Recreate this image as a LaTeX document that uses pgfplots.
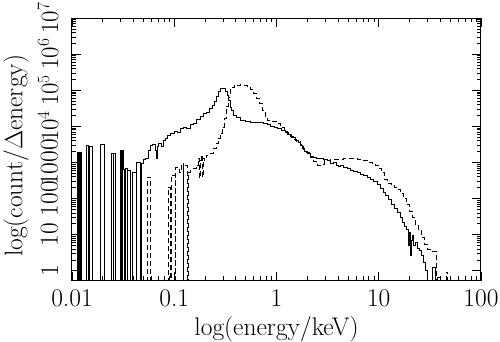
\documentclass[border=0pt]{standalone}
\usepackage{pgfplots}
\pgfplotsset{compat=1.18}
\usepackage{pgfplotstable}
\pgfplotstableread{
E N
0.01 0.01
0.01119 1880
0.01145 0.01
0.01163 1880
0.01189 0.01
0.01203 1880
0.01225 0.01
0.01370 2940
0.01457 0.01
0.01467 2756
0.01569 0.01
0.01878 3235
0.02056 0.01
0.02445 1765
0.02518 0.01
0.02546 1765
0.02633 0.01
0.02947 2206
0.03048 0.01
0.03083 2206
0.03175 656
0.03262 0.01
0.03299 700
0.03451 0.01
0.03474 616
0.03690 0.01
0.03863 542
0.04226 0.01
0.04294 981
0.04698 0.01
0.04730 944
0.04981 1242
0.05176 1324
0.05537 2206
0.05792 3034
0.06059 3235
0.06483 2206
0.06631 1324
0.06782 2845
0.06937 3447
0.07422 2845
0.07762 4176
0.08119 4744
0.08492 5741
0.09086 6520
0.09945 7408
0.1064 6950
0.1138 8975
0.1218 9565
0.1303 8975
0.1426 11580
0.1525 12340
0.1632 15930
0.1786 19290
0.1911 23360
0.2045 24890
0.2188 32130
0.2340 38900
0.2447 50230
0.2560 69090
0.2679 95020
0.2802 112900
0.3136 95020
0.3280 73640
0.3355 53530
0.3509 34250
0.3589 28300
0.3755 20560
0.4017 18100
0.4395 14950
0.4921 14030
0.5507 13150
0.6162 12800
0.6896 13150
0.7379 12340
0.8073 11580
0.8639 10190
0.9454 9565
1.0114 8975
1.1066 7900
1.2110 6950
1.2957 6120
1.3868 5054
1.5170 4176
1.6235 3673
1.6983 3034
1.7764 2506
1.8581 2069
1.9878 1821
2.1269 1504
2.2751 1412
2.4343 1324
2.6636 1324
2.8499 1242
3.1184 1165
3.3366 944
3.5697 981
3.8200 847
3.9961 795
4.1790 847
4.4718 746
4.8930 700
5.2350 616
5.6013 578
6.1302 542
6.5582 477
7.0154 448
7.6769 394
8.2123 347
8.7870 305
9.6144 252
10.285 195
11.005 151
11.512 125
12.315 96.9
13.176 70.4
14.098 54.6
15.083 42.3
16.137 30.7
16.880 22.3
17.660 17.3
18.474 14.3
19.324 5.15
19.763 11.8
20.214 2.72
20.673 7.08
21.143 9.75
21.627 5.15
22.618 6.24
23.660 4.25
24.747 3.74
25.887 2.72
27.078 1.74
28.322 1.05
29.634 0.01
33.174 1.27
35.485 0.01
37.121 0.669
39.719 0.01
100 0.01
}\solid
\pgfplotstableread{
E N
0.01 0.01
0.05414 394
0.05792 0.01
0.08687 208
0.09086 0.01
0.09293 448
0.1017 0.01
0.1028 746
0.1113 542
0.1164 962
0.1218 0.01
0.1226 847
0.1333 0.01
0.1363 542
0.1426 616
0.1525 700
0.1632 847
0.1707 1324
0.1746 370
0.1786 1165
0.1826 1603
0.1868 394
0.1911 1324
0.1954 1165
0.2045 1603
0.2238 1821
0.2393 2506
0.2560 3447
0.2679 4744
0.2802 6520
0.2931 9565
0.3067 16980
0.3207 36500
0.3355 64860
0.3509 107900
0.3671 122600
0.3840 139300
0.4395 143900
0.4812 139300
0.5145 122600
0.5507 107900
0.5892 83600
0.6303 60800
0.6745 44200
0.7215 28300
0.7719 19290
0.8073 14950
0.9036 14030
1.0114 12340
1.0820 9565
1.1840 7408
1.2668 6120
1.3552 5385
1.4500 4448
1.5515 3917
1.6983 3235
1.8159 2350
1.9432 1941
2.1269 1412
2.2751 1094
2.4896 847
2.7244 903
2.9142 1165
3.3366 1242
3.8200 1242
4.4718 1324
5.2350 1324
6.1302 1242
6.8596 1165
7.6769 1026
8.590 962
9.190 847
9.833 700
10.52 542
11.25 347
12.04 269
13.18 237
14.10 208
15.08 183
16.14 142
17.27 103
18.47 70.4
19.76 45.1
21.14 30.7
22.62 19.7
24.21 13.4
25.89 8.58
27.71 5.49
29.63 3.99
31.71 3.51
36.29 0.01
45.47 0.92
47.03 0.01
100 0.01
}\dashed
\begin{document}
\begin{tikzpicture}[font=\fontsize{25.5}{30}\selectfont]
\begin{axis}[
  xmode=log, ymode=log,
  scale only axis, width=409pt, height=262.7pt,
  xmin=0.01, xmax=100, ymin=0.53, ymax=1e7,
  xtick={0.01,0.1,1,10,100}, xticklabels={0.01,0.1,1,10,100},
  ytick={1,10,100,1000,1e4,1e5,1e6,1e7},
  yticklabels={1,10,100,1000,$10^4$,$10^5$,$10^6$,$10^7$},
  tick align=inside, tick pos=both,
  major tick length=9pt, minor tick length=4.5pt,
  every tick/.style={black, line width=0.7pt},
  axis line style={line width=1pt},
  tick label style={font=\fontsize{25.5}{30}\selectfont},
  label style={font=\fontsize{25.5}{30}\selectfont},
  xticklabel shift=9pt, yticklabel shift=13.7pt,
  xticklabel style={inner sep=0pt, anchor=north},
  yticklabel style={inner sep=0pt, rotate=90, anchor=south},
  xlabel={log(energy/keV)}, ylabel={log(count/$\Delta$energy)},
  xlabel style={at={(axis description cs:0.5,0)}, anchor=north, inner sep=0pt, yshift=-35pt},
  ylabel style={at={(axis description cs:-0.1687,0.475)}, anchor=north, inner sep=0pt},
]
\addplot[const plot, black, line width=0.85pt] table {\solid};
\addplot[const plot, black, line width=0.85pt, dash pattern=on 5pt off 3pt] table {\dashed};
\end{axis}
\pgfresetboundingbox
\path (-72pt,-60.3pt) rectangle (428pt,280.7pt);
\end{tikzpicture}
\end{document}
